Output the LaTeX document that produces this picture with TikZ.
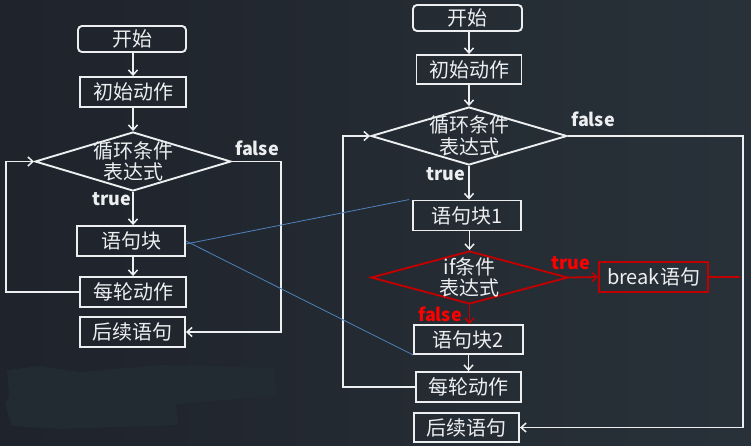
\documentclass[tikz,border=0pt]{standalone}
\usepackage{fontspec}
\setmainfont{Noto Sans CJK SC}
\usetikzlibrary{shapes.geometric,arrows.meta,calc}
\definecolor{bgl}{RGB}{31,35,43}
\definecolor{bgr}{RGB}{40,49,57}
\definecolor{patch}{RGB}{34,42,50}
\definecolor{wline}{RGB}{236,238,240}
\definecolor{rline}{RGB}{192,0,0}
\definecolor{rtext}{RGB}{255,0,0}
\definecolor{bline}{RGB}{79,129,189}
\tikzset{
  box/.style={draw=wline, line width=1.9pt, text=wline, inner sep=0pt,
    font=\fontsize{20}{22}\selectfont},
  rbox/.style={box, draw=rline},
  dia/.style={shape=diamond, draw=wline, line width=1.9pt, inner sep=0pt},
  rdia/.style={dia, draw=rline},
  dtext/.style={text=wline, align=center, font=\fontsize{20}{21.5}\selectfont},
  lab/.style={text=wline, font=\fontsize{18}{19}\selectfont\bfseries},
  rlab/.style={lab, text=rtext},
  arr/.style={draw=wline, line width=1.8pt, -{Straight Barb[length=5pt,width=9pt,line width=1.5pt]}},
  rarr/.style={arr, draw=rline},
  wl/.style={draw=wline, line width=1.8pt},
  rl/.style={draw=rline, line width=1.8pt},
  bl/.style={draw=bline, line width=0.8pt},
}
\begin{document}
\begin{tikzpicture}[x=1pt,y=-1pt]
\useasboundingbox (0,0) rectangle (751,445);
\shade[left color=bgl, right color=bgr] (0,0) rectangle (751,445);
\fill[patch] (7,370) -- (40,366) -- (80,372) -- (160,365) -- (275,368) -- (276,396) -- (176,404) -- (178,425) -- (60,429) -- (12,426) -- (5,404) -- (9,396) -- cycle;

% ---------- left chart ----------
\node[box, rounded corners=4pt, minimum width=108pt, minimum height=26pt] (s1) at (132,39) {开始};
\node[box, minimum width=106pt, minimum height=30pt] (i1) at (133,92) {初始动作};
\node[dia, minimum width=196pt, minimum height=59pt] (d1) at (133,161.5) {};
\node[dtext] (d1t) at (133,161.5) {循环条件\\表达式};
\node[box, minimum width=108pt, minimum height=30pt] (b1) at (131,241) {语句块};
\node[box, minimum width=106pt, minimum height=30pt] (e1) at (133,292) {每轮动作};
\node[box, minimum width=105pt, minimum height=30pt] (f1) at (132.5,332) {后续语句};
\node[lab] (t1) at (112,199) {true};
\node[lab] (fl1) at (257,148) {false};
\coordinate (l1c) at (6,292);
\coordinate (r1c) at (281,161.5);

\draw[arr] (s1.south -| i1) -- (i1.north);
\draw[arr] (i1.south) -- (d1.north);
\draw[arr] (d1.south) -- (d1.south |- b1.north);
\draw[arr] (b1.south -| e1) -- (e1.north);
\draw[arr] (e1.west) -- (l1c) |- (d1.west);
\draw[arr] (d1.east) -- (r1c) |- (f1.east);

% ---------- right chart ----------
\node[box, rounded corners=4pt, minimum width=109pt, minimum height=26pt] (s2) at (467.5,18) {开始};
\node[box, minimum width=105pt, minimum height=29pt] (i2) at (469,69.5) {初始动作};
\node[dia, minimum width=196pt, minimum height=58pt] (d2) at (469,136) {};
\node[dtext] (d2t) at (469,136) {循环条件\\表达式};
\node[box, minimum width=108pt, minimum height=30pt] (b21) at (467,215.5) {语句块1};
\node[rdia, minimum width=197pt, minimum height=53pt] (d3) at (469.5,277.5) {};
\node[dtext] (d3t) at (469.5,277.5) {if条件\\表达式};
\node[rbox, minimum width=109pt, minimum height=30pt] (k) at (653.5,277) {break语句};
\node[box, minimum width=109pt, minimum height=29pt] (b22) at (468.5,339.5) {语句块2};
\node[box, minimum width=105pt, minimum height=30pt] (e2) at (468.5,387) {每轮动作};
\node[box, minimum width=105pt, minimum height=29pt] (f2) at (466.5,427.5) {后续语句};
\node[lab] (t2) at (446,174) {true};
\node[lab] (fl2) at (593,119) {false};
\node[rlab] (t3) at (571,263) {true};
\node[rlab] (fl3) at (440,314) {false};
\coordinate (l2c) at (343,387);
\coordinate (r2c) at (743,136);
\coordinate (kend) at (740,277);

\draw[arr] (s2.south -| i2) -- (i2.north);
\draw[arr] (i2.south) -- (d2.north);
\draw[arr] (d2.south) -- (d2.south |- b21.north);
\draw[arr] (b21.south -| d3) -- (d3.north);
\draw[rarr] (d3.south) -- (d3.south |- b22.north);
\draw[rarr] (d3.east) -- (k.west);
\draw[rl] (k.east) -- (kend);
\draw[arr] (b22.south) -- (b22.south |- e2.north);
\draw[arr] (e2.west) -- (l2c) |- (d2.west);
\draw[arr] (d2.east) -- (r2c) |- (f2.east);

% ---------- blue links ----------
\draw[bl] ([yshift=-3pt]b1.east) -- ([xshift=-3pt]b21.north west);
\draw[bl] (b1.east) -- (b22.south west);
\end{tikzpicture}
\end{document}
